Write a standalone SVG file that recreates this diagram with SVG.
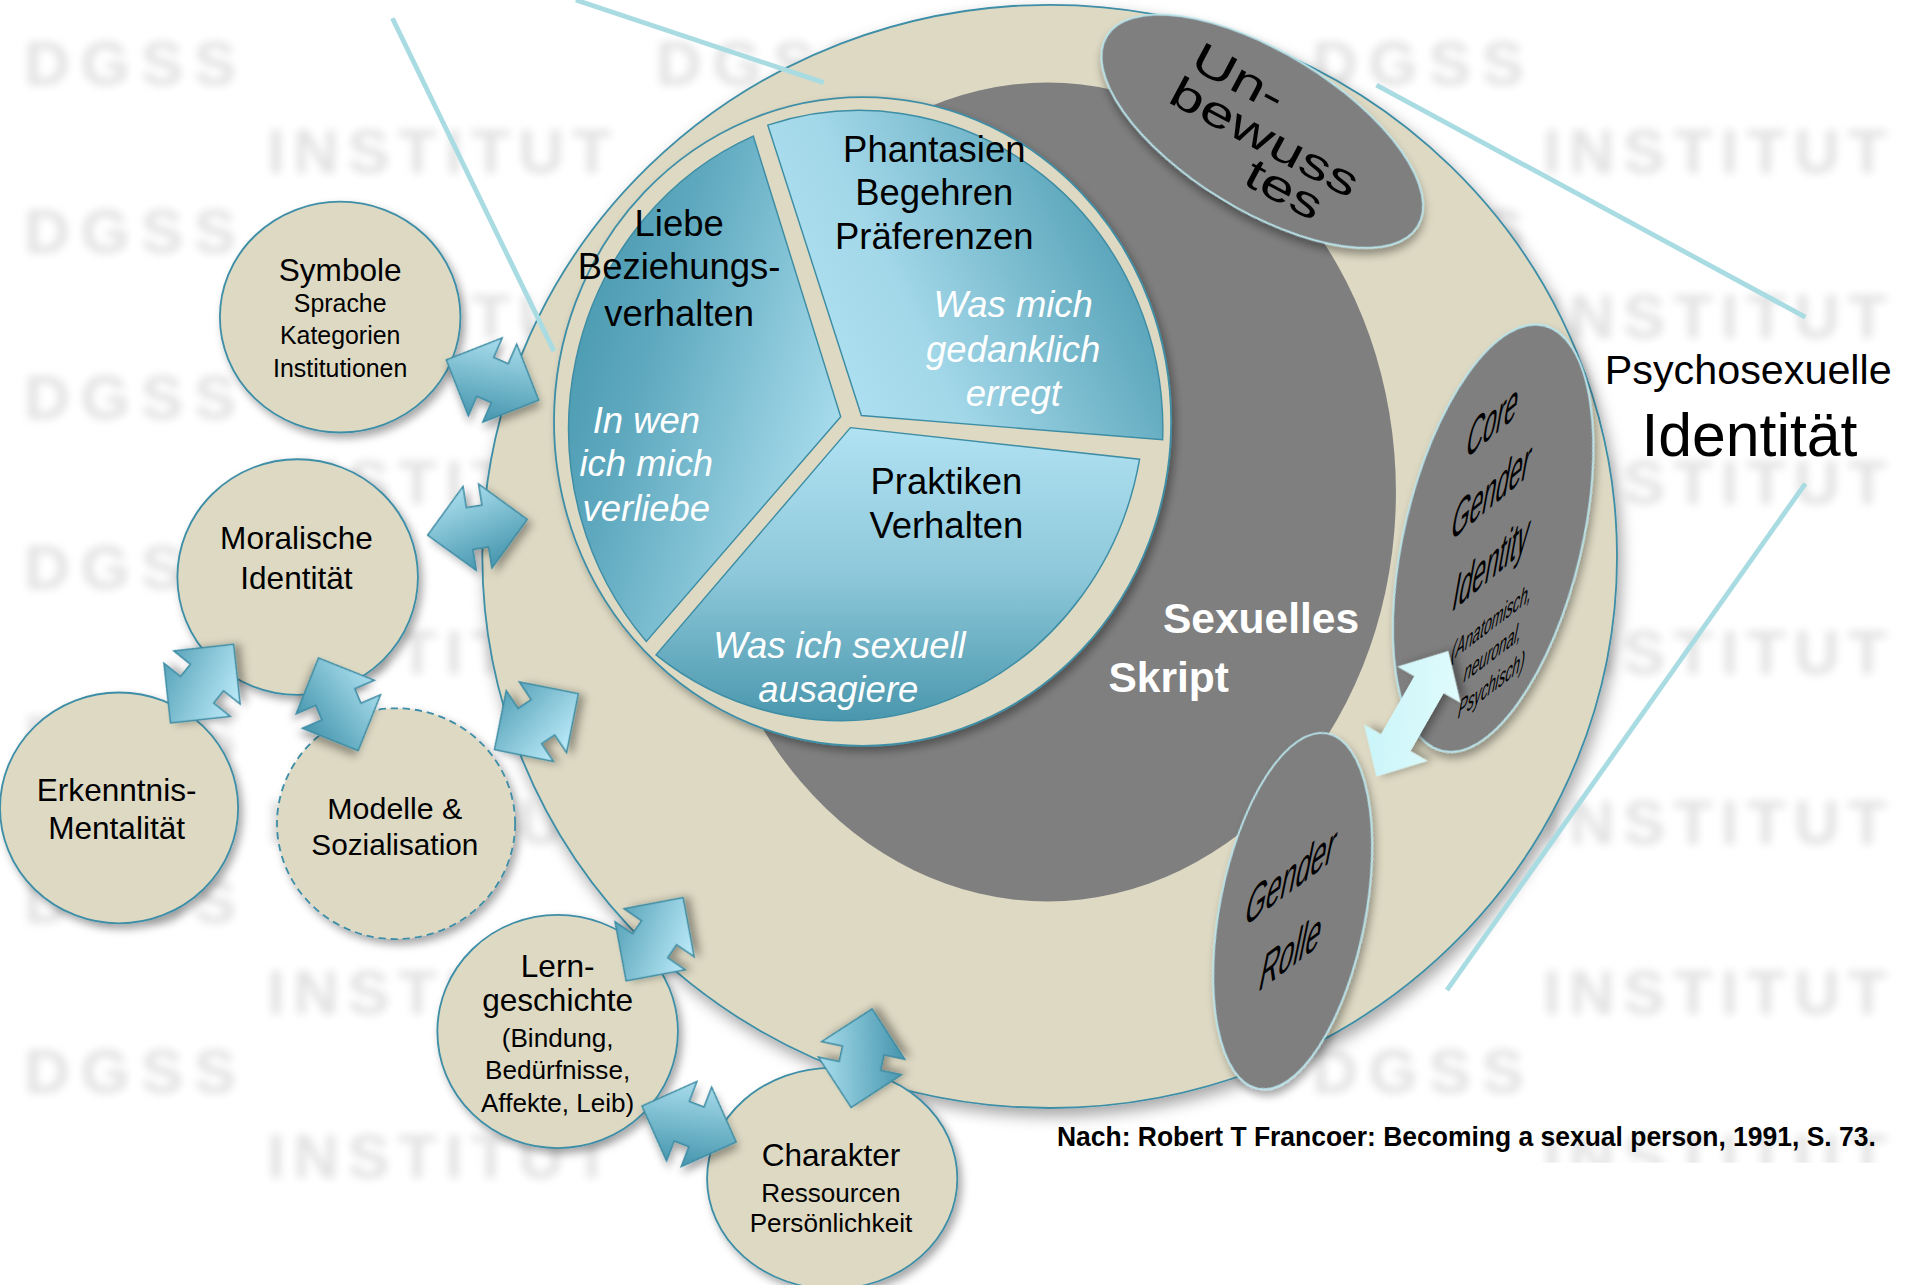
<svg xmlns="http://www.w3.org/2000/svg" width="1905" height="1285" viewBox="0 0 1905 1285">
<style>
.t{font-family:"Liberation Sans",Arial,sans-serif;fill:#000}
.c{text-anchor:middle}
.wi{fill:#fff;font-style:italic}
.wb{fill:#fff;font-weight:bold}
.node{fill:#DDD9C3;stroke:#3E8EA6;stroke-width:1.5;filter:url(#sh)}
.grayo{fill:#7F7F7F;stroke:#B9E3EA;stroke-width:1.5;filter:url(#sh)}
.seg{stroke:#3D8DA5;stroke-width:1.2}
.arr{stroke:#3A8AA2;stroke-width:1.2;filter:url(#sh)}
.ptr{stroke:#A9DCE2;stroke-width:4;fill:none;stroke-linecap:butt}
.wm{font-family:"Liberation Sans",Arial,sans-serif;font-weight:bold;font-size:52px;fill:#e2e2e2;filter:url(#blur)}
</style>
<defs>
<filter id="sh" x="-20%" y="-20%" width="150%" height="150%"><feDropShadow dx="3" dy="4" stdDeviation="3.5" flood-color="#000" flood-opacity="0.35"/></filter>
<filter id="shbig" x="-10%" y="-10%" width="125%" height="125%"><feDropShadow dx="3" dy="6" stdDeviation="6" flood-color="#000" flood-opacity="0.35"/></filter>
<filter id="blur" x="-10%" y="-30%" width="120%" height="160%"><feGaussianBlur stdDeviation="3.6"/></filter>
<linearGradient id="gLiebe" x1="0.05" y1="0.25" x2="0.95" y2="0.75"><stop offset="0" stop-color="#4A9AB0"/><stop offset="0.3" stop-color="#5FA9BF"/><stop offset="1" stop-color="#ACDFEF"/></linearGradient>
<linearGradient id="gPhan" x1="0" y1="0.75" x2="1" y2="0.35"><stop offset="0" stop-color="#B2E4F4"/><stop offset="0.35" stop-color="#A3D8E9"/><stop offset="1" stop-color="#4A99AF"/></linearGradient>
<linearGradient id="gPrak" x1="0.5" y1="0" x2="0.5" y2="1"><stop offset="0" stop-color="#B0E2F2"/><stop offset="0.5" stop-color="#8EC8DA"/><stop offset="1" stop-color="#4A97AD"/></linearGradient>
<linearGradient id="gA" x1="0" y1="0" x2="0.3" y2="1"><stop offset="0" stop-color="#B5E6F5"/><stop offset="1" stop-color="#4D9BB2"/></linearGradient>
<linearGradient id="gB" x1="0.3" y1="1" x2="0" y2="0"><stop offset="0" stop-color="#B5E6F5"/><stop offset="1" stop-color="#4D9BB2"/></linearGradient>
<linearGradient id="gL" x1="0" y1="0" x2="1" y2="1"><stop offset="0" stop-color="#C6F4F8"/><stop offset="1" stop-color="#E4FCFD"/></linearGradient>
<path id="da" d="M41.5 0L6.5-35V-17.5H-6.5V-35L-41.5 0L-6.5 35V17.5H6.5V35Z"/>
</defs>
<rect width="1905" height="1285" fill="#fff"/>
<g transform="scale(1.2149)">
<g id="watermark">
<text class="wm" x="20" y="70" letter-spacing="9">DGSS</text>
<text class="wm" x="540" y="70" letter-spacing="9">DGSS</text>
<text class="wm" x="1080" y="70" letter-spacing="9">DGSS</text>
<text class="wm" x="20" y="208" letter-spacing="9">DGSS</text>
<text class="wm" x="1080" y="208" letter-spacing="9">DGSS</text>
<text class="wm" x="20" y="345" letter-spacing="9">DGSS</text>
<text class="wm" x="20" y="485" letter-spacing="9">DGSS</text>
<text class="wm" x="20" y="625" letter-spacing="9">DGSS</text>
<text class="wm" x="20" y="760" letter-spacing="9">DGSS</text>
<text class="wm" x="20" y="900" letter-spacing="9">DGSS</text>
<text class="wm" x="1080" y="900" letter-spacing="9">DGSS</text>
<text class="wm" x="220" y="142" letter-spacing="7">INSTITUT</text>
<text class="wm" x="1270" y="142" letter-spacing="7">INSTITUT</text>
<text class="wm" x="220" y="278" letter-spacing="7">INSTITUT</text>
<text class="wm" x="1270" y="278" letter-spacing="7">INSTITUT</text>
<text class="wm" x="220" y="415" letter-spacing="7">INSTITUT</text>
<text class="wm" x="1270" y="415" letter-spacing="7">INSTITUT</text>
<text class="wm" x="220" y="555" letter-spacing="7">INSTITUT</text>
<text class="wm" x="1270" y="555" letter-spacing="7">INSTITUT</text>
<text class="wm" x="220" y="695" letter-spacing="7">INSTITUT</text>
<text class="wm" x="1270" y="695" letter-spacing="7">INSTITUT</text>
<text class="wm" x="220" y="835" letter-spacing="7">INSTITUT</text>
<text class="wm" x="1270" y="835" letter-spacing="7">INSTITUT</text>
<text class="wm" x="220" y="970" letter-spacing="7">INSTITUT</text>
<text class="wm" x="1270" y="970" letter-spacing="7">INSTITUT</text>
</g>
<rect x="0" y="978" width="582" height="90" fill="#fff"/>
<rect x="582" y="957" width="990" height="110" fill="#fff"/>

<g id="psychosexuelle-identitaet-ring">
<ellipse cx="864" cy="458" rx="467" ry="454" fill="#DDD9C3" stroke="#3E8EA6" stroke-width="1.5" filter="url(#shbig)"/>
</g>

<g id="sexuelles-skript">
<ellipse cx="862" cy="405" rx="287" ry="337" fill="#7F7F7F"/>
<text class="t c wb" x="1038" y="521" font-size="35">Sexuelles</text>
<text class="t c wb" x="962" y="570" font-size="35">Skript</text>
</g>

<g id="unbewusstes">
<ellipse cx="1039" cy="108" rx="150" ry="65" transform="rotate(31.5 1039 108)" class="grayo"/>
<text class="t c" font-size="36" y="13" transform="matrix(1.236 0.657 -0.469 0.883 1020 63)">Un-</text>
<text class="t c" font-size="36" y="12" transform="matrix(1.236 0.657 -0.469 0.883 1041 113)">bewuss</text>
<text class="t c" font-size="36" y="12" transform="matrix(1.236 0.657 -0.469 0.883 1057 156)">tes</text>
</g>

<g id="pie">
<ellipse cx="710" cy="347" rx="254" ry="267" fill="#DDD9C3" stroke="#3E8EA6" stroke-width="1.5" filter="url(#sh)"/>
<g id="liebe">
<path class="seg" fill="url(#gLiebe)" d="M692 343L532 528A250 262 0 0 1 620 112Z"/>
<text class="t c" font-size="30" x="559" y="194">Liebe</text>
<text class="t c" font-size="30" x="559" y="230">Beziehungs-</text>
<text class="t c" font-size="30" x="559" y="268">verhalten</text>
<text class="t c wi" font-size="30" x="532" y="356">In wen</text>
<text class="t c wi" font-size="30" x="532" y="392">ich mich</text>
<text class="t c wi" font-size="30" x="532" y="429">verliebe</text>
</g>
<g id="phantasien">
<path class="seg" fill="url(#gPhan)" d="M709 342L632 103A250 262 0 0 1 957 362Z"/>
<text class="t c" font-size="30" x="769" y="133">Phantasien</text>
<text class="t c" font-size="30" x="769" y="169">Begehren</text>
<text class="t c" font-size="30" x="769" y="205">Präferenzen</text>
<text class="t c wi" font-size="30" x="834" y="261">Was mich</text>
<text class="t c wi" font-size="30" x="834" y="298">gedanklich</text>
<text class="t c wi" font-size="30" x="834" y="334">erregt</text>
</g>
<g id="praktiken">
<path class="seg" fill="url(#gPrak)" d="M700 352L938 378A250 262 0 0 1 540 539Z"/>
<text class="t c" font-size="30" x="779" y="407">Praktiken</text>
<text class="t c" font-size="30" x="779" y="443">Verhalten</text>
<text class="t c wi" font-size="30" x="691" y="542">Was ich sexuell</text>
<text class="t c wi" font-size="30" x="690" y="578">ausagiere</text>
</g>
</g>

<g id="core-gender-identity">
<ellipse cx="1229" cy="443" rx="73" ry="180" transform="rotate(13.5 1229 443)" class="grayo"/>
<text class="t c" font-size="46" y="16.5" transform="matrix(0.421 -0.354 -0.174 0.985 1229 345)">Core</text>
<text class="t c" font-size="46" y="16.5" transform="matrix(0.421 -0.354 -0.174 0.985 1228 403)">Gender</text>
<text class="t c" font-size="46" y="16.5" transform="matrix(0.421 -0.354 -0.174 0.985 1228 462)">Identity</text>
<text class="t c" font-size="24" y="8.6" transform="matrix(0.47 -0.36 -0.19 0.98 1228 511)">(Anatomisch,</text>
<text class="t c" font-size="24" y="8.6" transform="matrix(0.47 -0.36 -0.19 0.98 1229 536)">neuronal,</text>
<text class="t c" font-size="24" y="8.6" transform="matrix(0.47 -0.36 -0.19 0.98 1228 563)">Psychisch)</text>
</g>

<g id="gender-rolle">
<ellipse cx="1064" cy="750" rx="60" ry="149" transform="rotate(11 1064 750)" class="grayo"/>
<text class="t c" font-size="46" y="16.5" transform="matrix(0.479 -0.361 -0.2 0.98 1063 720)">Gender</text>
<text class="t c" font-size="46" y="16.5" transform="matrix(0.479 -0.361 -0.2 0.98 1063 782)">Rolle</text>
</g>

<g id="symbole">
<ellipse class="node" cx="280" cy="261" rx="99" ry="95"/>
<text class="t c" font-size="26" x="280" y="231">Symbole</text>
<text class="t c" font-size="20.5" x="280" y="257">Sprache</text>
<text class="t c" font-size="20.5" x="280" y="283">Kategorien</text>
<text class="t c" font-size="20.5" x="280" y="310">Institutionen</text>
</g>
<g id="moralische-identitaet">
<ellipse class="node" cx="245" cy="475" rx="99" ry="97"/>
<text class="t c" font-size="26" x="244" y="452">Moralische</text>
<text class="t c" font-size="26" x="244" y="485">Identität</text>
</g>
<g id="erkenntnis-mentalitaet">
<ellipse class="node" cx="98" cy="665" rx="98" ry="95"/>
<text class="t c" font-size="26" x="96" y="659">Erkenntnis-</text>
<text class="t c" font-size="26" x="96" y="691">Mentalität</text>
</g>
<g id="modelle-sozialisation">
<ellipse class="node" cx="326" cy="678" rx="98" ry="95" stroke-dasharray="6 4"/>
<text class="t c" font-size="25" x="325" y="674">Modelle &amp;</text>
<text class="t c" font-size="24.5" x="325" y="704">Sozialisation</text>
</g>
<g id="lerngeschichte">
<ellipse class="node" cx="459" cy="849" rx="99" ry="96"/>
<text class="t c" font-size="26" x="459" y="804">Lern-</text>
<text class="t c" font-size="26" x="459" y="832">geschichte</text>
<text class="t c" font-size="21.5" x="459" y="862">(Bindung,</text>
<text class="t c" font-size="21.5" x="459" y="888">Bedürfnisse,</text>
<text class="t c" font-size="21.5" x="459" y="915">Affekte, Leib)</text>
</g>
<g id="charakter">
<ellipse class="node" cx="685" cy="970" rx="103" ry="91"/>
<text class="t c" font-size="26" x="684" y="960">Charakter</text>
<text class="t c" font-size="21.5" x="684" y="989">Ressourcen</text>
<text class="t c" font-size="21.5" x="684" y="1014">Persönlichkeit</text>
</g>

<g id="connectors">
<use href="#da" class="arr" fill="url(#gA)" transform="translate(405.4 312.8) rotate(23.5)"/>
<use href="#da" class="arr" fill="url(#gA)" transform="translate(393 434) rotate(-9)"/>
<use href="#da" class="arr" fill="url(#gB)" transform="translate(166.3 562.7) rotate(-51.3)"/>
<use href="#da" class="arr" fill="url(#gA)" transform="translate(278.5 579.7) rotate(66.8)"/>
<use href="#da" class="arr" fill="url(#gB)" transform="translate(441.5 594) rotate(-33.7)"/>
<use href="#da" class="arr" fill="url(#gB)" transform="translate(538.8 773.1) rotate(-55.6)"/>
<use href="#da" class="arr" fill="url(#gA)" transform="translate(567.2 925.2) rotate(20.9)"/>
<use href="#da" class="arr" fill="url(#gA)" transform="translate(709.2 871) rotate(-78)"/>
<path d="M59.5 0L27.5-30V-14H-27.5V-30L-59.5 0L-27.5 30V14H27.5V30Z" fill="url(#gL)" filter="url(#sh)" transform="translate(1162.5 587.5) rotate(-60.2)"/>
<line class="ptr" x1="323" y1="15" x2="456" y2="289"/>
<line class="ptr" x1="474" y1="0" x2="678" y2="68"/>
<line class="ptr" x1="1133" y1="70" x2="1486" y2="261"/>
<line class="ptr" x1="1486" y1="398" x2="1191" y2="815"/>
</g>

<g id="titel">
<text class="t c" font-size="34" x="1439" y="316">Psychosexuelle</text>
<text class="t c" font-size="50" x="1440" y="375">Identität</text>
</g>
<text class="t" font-size="22" font-weight="bold" x="870" y="943" textLength="674" lengthAdjust="spacingAndGlyphs">Nach: Robert T Francoer: Becoming a sexual person, 1991, S. 73.</text>
</g>
</svg>
